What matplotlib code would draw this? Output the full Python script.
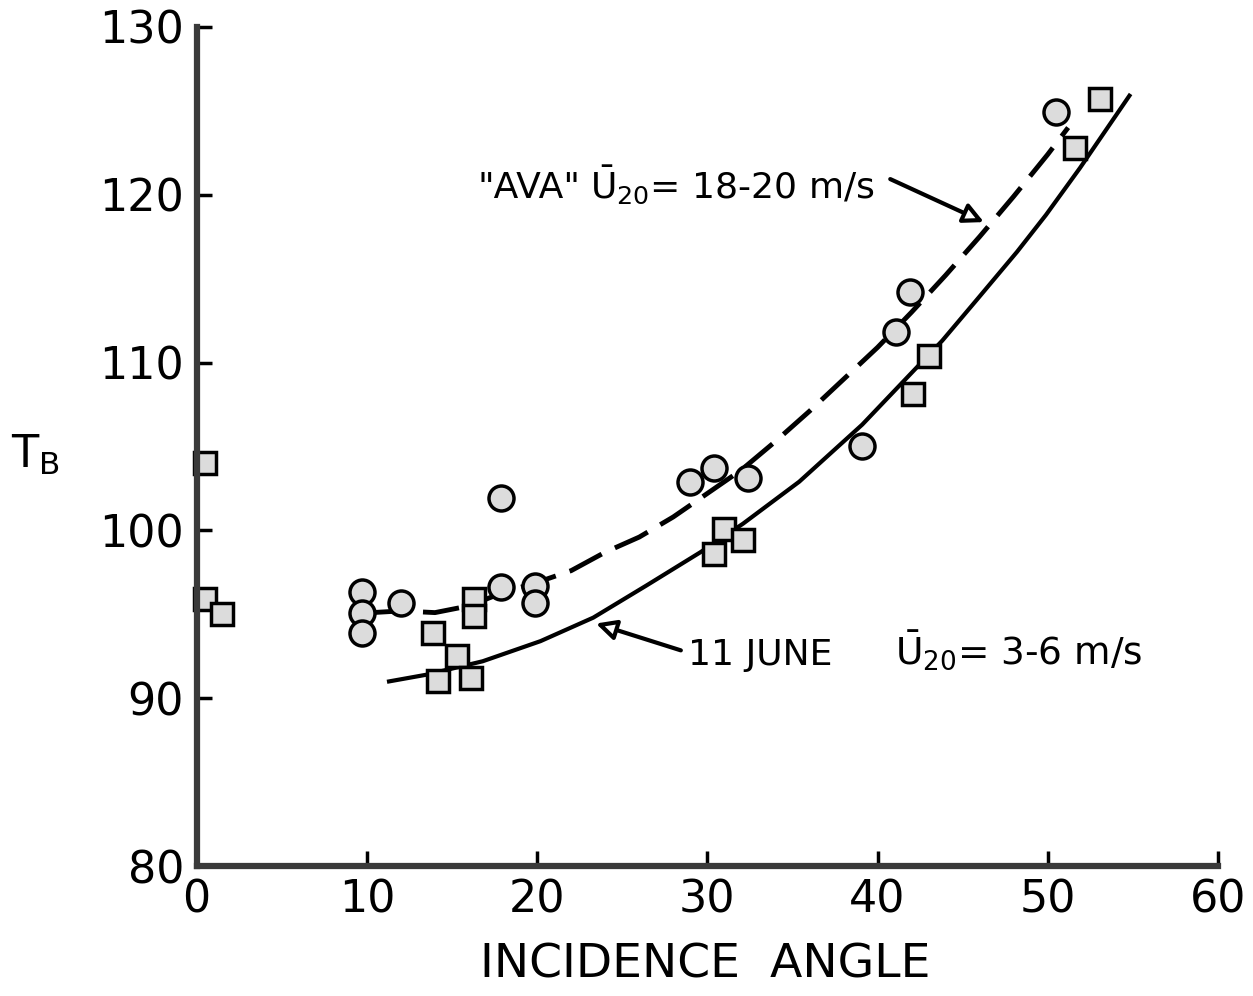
import matplotlib
matplotlib.use("Agg")
import matplotlib.pyplot as plt

# open circles ("AVA" run, U20 = 18-20 m/s)
circ_x = [9.7, 9.7, 9.7, 12.0, 17.9, 17.9, 19.9, 19.9, 29.0, 30.4, 32.4, 39.1, 41.1, 41.9, 50.5]
circ_y = [96.3, 95.1, 93.9, 95.7, 101.9, 96.6, 96.7, 95.7, 102.9, 103.7, 103.1, 105.0, 111.8, 114.2, 124.9]

# open squares (11 June, U20 = 3-6 m/s)
sq_x = [0.5, 0.5, 1.5, 13.9, 14.2, 15.3, 16.1, 16.3, 16.3, 30.4, 31.0, 32.1, 42.1, 43.0, 51.6, 53.1]
sq_y = [104.0, 95.9, 95.0, 93.9, 91.0, 92.5, 91.2, 95.9, 94.9, 98.6, 100.1, 99.4, 108.1, 110.4, 122.8, 125.7]

# hand-drawn fit curves
dash_x = [10.3, 12, 14, 16, 18, 20, 22, 24, 26, 28, 30, 32, 34, 36, 38, 40, 42, 44, 46, 48, 50, 51.2]
dash_y = [95.1, 95.2, 95.1, 95.5, 96.3, 96.9, 97.6, 98.7, 99.6, 100.8, 102.2, 103.6, 105.3,
          107.1, 109.0, 110.9, 113.0, 115.2, 117.5, 119.9, 122.4, 124.0]

sol_x = [11.3, 13.5, 16.8, 20.2, 23.3, 26.4, 29.6, 32.1, 35.4, 39.1, 43.8, 45.8, 48.2, 49.9, 51.9, 54.8]
sol_y = [91.0, 91.4, 92.2, 93.4, 94.8, 96.7, 98.7, 100.4, 102.9, 106.3, 111.3, 113.7,
         116.6, 118.8, 121.6, 125.9]

x_ticks = [0, 10, 20, 30, 40, 50, 60]
y_ticks = [80, 90, 100, 110, 120, 130]

fig = plt.figure(figsize=(12.53, 9.96), dpi=100)
ax = fig.add_axes([0.157, 0.1305, 0.815, 0.8425])

ax.plot(dash_x, dash_y, color="black", lw=3.5, dashes=(7.5, 3), solid_capstyle="round")
ax.plot(sol_x, sol_y, color="black", lw=3)

ax.plot(circ_x, circ_y, "o", ms=18, mfc="#dcdcdc", mec="black", mew=2.5, ls="none", zorder=3)
ax.plot(sq_x, sq_y, "s", ms=16, mfc="#dcdcdc", mec="black", mew=2.5, ls="none", zorder=3,
        clip_on=False)

ax.set_xlim(0, 60)
ax.set_ylim(80, 130)
ax.set_xticks(x_ticks)
ax.set_yticks(y_ticks)

for s in ["top", "right"]:
    ax.spines[s].set_visible(False)
for s in ["left", "bottom"]:
    ax.spines[s].set_linewidth(4.5)
    ax.spines[s].set_color("#3a3a3a")
    ax.spines[s].set_zorder(4)

ax.tick_params(direction="in", length=11, width=2.5, labelsize=32, pad=9, color="black")

# annotations
ax.text(16.5, 119.8, '"AVA"', fontsize=26, va="baseline", ha="left")
ax.text(23.1, 119.8, r"$\bar{\mathrm{U}}_{20}$= 18-20 m/s", fontsize=26, va="baseline", ha="left")
ax.annotate("", xy=(46.4, 118.3), xytext=(40.6, 121.0),
            arrowprops=dict(arrowstyle="-|>", lw=3, fc="white", ec="black", mutation_scale=30))

ax.text(28.85, 92.0, "11 JUNE", fontsize=26, va="baseline", ha="left")
ax.text(41.0, 92.0, r"$\bar{\mathrm{U}}_{20}$= 3-6 m/s", fontsize=27, va="baseline", ha="left")
ax.annotate("", xy=(23.3, 94.5), xytext=(28.6, 92.8),
            arrowprops=dict(arrowstyle="-|>", lw=3, fc="white", ec="black", mutation_scale=30))

fig.text(0.028, 1 - 455 / 996, r"$\mathrm{T}_\mathrm{B}$", fontsize=32, va="center", ha="center")
fig.text(0.563, 0.031, "INCIDENCE  ANGLE", fontsize=34, va="center", ha="center")

fig.savefig("out.png", dpi=100, facecolor="white")
